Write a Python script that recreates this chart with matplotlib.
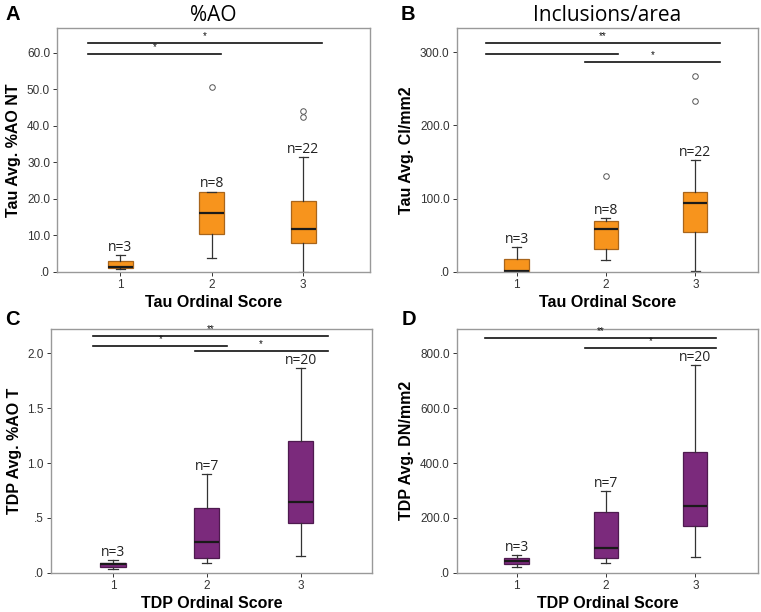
import matplotlib
matplotlib.use("Agg")
import matplotlib.pyplot as plt

plt.rcParams['font.family'] = ['Liberation Sans', 'DejaVu Sans']

# ---------------- data ----------------
groups = [1, 2, 3]

# Panel A: Tau Avg. %AO NT  (whislo, q1, med, q3, whishi, outliers)
a_stats = [
    (0.8, 1.1, 1.4, 3.1, 4.7, []),
    (3.8, 10.5, 16.0, 21.9, 22.0, [50.5]),
    (0.1, 8.0, 11.8, 19.5, 31.4, [44.1, 42.3]),
]
a_n = ["n=3", "n=8", "n=22"]
a_ticks = [0, 10, 20, 30, 40, 50, 60]
a_ticklabels = [".0", "10.0", "20.0", "30.0", "40.0", "50.0", "60.0"]
a_sig = [(0.65, 3.21, 62.6, "*"), (0.65, 2.10, 59.5, "*")]

# Panel B: Tau Avg. CI/mm2
b_stats = [
    (0.0, 0.0, 1.4, 18.2, 34.2, []),
    (16.4, 31.9, 58.8, 69.3, 73.0, [131.0]),
    (1.4, 55.2, 94.8, 109.4, 153.2, [267.2, 233.5]),
]
b_n = ["n=3", "n=8", "n=22"]
b_ticks = [0, 100, 200, 300]
b_ticklabels = [".0", "100.0", "200.0", "300.0"]
b_sig = [(0.66, 3.27, 312.4, "**"), (0.66, 2.14, 297.8, ""), (1.77, 3.27, 285.9, "*")]

# Panel C: TDP Avg. %AO T
c_stats = [
    (0.037, 0.052, 0.076, 0.091, 0.113, []),
    (0.091, 0.131, 0.28, 0.59, 0.898, []),
    (0.152, 0.454, 0.645, 1.205, 1.866, []),
]
c_n = ["n=3", "n=7", "n=20"]
c_ticks = [0, 0.5, 1.0, 1.5, 2.0]
c_ticklabels = [".0", ".5", "1.0", "1.5", "2.0"]
c_sig = [(0.79, 3.29, 2.155, "**"), (0.79, 2.22, 2.07, "*"), (1.87, 3.29, 2.024, "*")]

# Panel D: TDP Avg. DN/mm2
d_stats = [
    (20.7, 30.4, 42.6, 52.4, 65.8, []),
    (35.3, 52.4, 88.9, 221.7, 298.4, []),
    (56.0, 171.7, 243.6, 442.0, 757.6, []),
]
d_n = ["n=3", "n=7", "n=20"]
d_ticks = [0, 200, 400, 600, 800]
d_ticklabels = [".0", "200.0", "400.0", "600.0", "800.0"]
d_sig = [(0.65, 3.23, 856.3, "**"), (1.77, 3.23, 818.5, "*")]

ORANGE = "#F7941D"
ORANGE_EDGE = "#A8651C"
PURPLE = "#7B2A7C"
PURPLE_EDGE = "#4E1A4F"

fig = plt.figure(figsize=(7.61, 6.12), dpi=100)

panels = [
    dict(rect=[0.0749, 0.5556, 0.4113, 0.3986], stats=a_stats, n=a_n, ticks=a_ticks,
         tl=a_ticklabels, sig=a_sig, ylim=(0, 66.7), xlim=(0.31, 3.73), color=ORANGE,
         edge=ORANGE_EDGE, ylabel="Tau Avg. %AO NT", xlabel="Tau Ordinal Score",
         title="%AO", letter="A", lx=-0.166, ly=1.033),
    dict(rect=[0.600, 0.5556, 0.396, 0.3986], stats=b_stats, n=b_n, ticks=b_ticks,
         tl=b_ticklabels, sig=b_sig, ylim=(0, 332.9), xlim=(0.33, 3.7), color=ORANGE,
         edge=ORANGE_EDGE, ylabel="Tau Avg. CI/mm2", xlabel="Tau Ordinal Score",
         title="Inclusions/area", letter="B", lx=-0.186, ly=1.033),
    dict(rect=[0.067, 0.0642, 0.4218, 0.3982], stats=c_stats, n=c_n, ticks=c_ticks,
         tl=c_ticklabels, sig=c_sig, ylim=(0, 2.222), xlim=(0.34, 3.76), color=PURPLE,
         edge=PURPLE_EDGE, ylabel="TDP Avg. %AO T", xlabel="TDP Ordinal Score",
         title=None, letter="C", lx=-0.143, ly=1.017),
    dict(rect=[0.600, 0.0642, 0.396, 0.3982], stats=d_stats, n=d_n, ticks=d_ticks,
         tl=d_ticklabels, sig=d_sig, ylim=(0, 889), xlim=(0.33, 3.7), color=PURPLE,
         edge=PURPLE_EDGE, ylabel="TDP Avg. DN/mm2", xlabel="TDP Ordinal Score",
         title=None, letter="D", lx=-0.183, ly=1.017),
]

for p in panels:
    ax = fig.add_axes(p["rect"])
    bxp = []
    for g, s in zip(groups, p["stats"]):
        bxp.append(dict(whislo=s[0], q1=s[1], med=s[2], q3=s[3], whishi=s[4], fliers=s[5]))
    ax.bxp(bxp, positions=groups, widths=0.27, patch_artist=True, capwidths=0.1,
           boxprops=dict(facecolor=p["color"], edgecolor=p["edge"], linewidth=0.9),
           medianprops=dict(color="#1a1a1a", linewidth=1.6),
           whiskerprops=dict(color="#333333", linewidth=0.9),
           capprops=dict(color="#333333", linewidth=0.9),
           flierprops=dict(marker="o", markersize=4, markerfacecolor="white",
                           markeredgecolor="#555555", markeredgewidth=0.7))
    ax.set_xlim(*p["xlim"])
    ax.set_ylim(*p["ylim"])
    ax.set_yticks(p["ticks"])
    ax.set_yticklabels(p["tl"])
    ax.set_xticks(groups)
    ax.set_xticklabels([str(g) for g in groups])
    ax.tick_params(axis="both", labelsize=8.5, colors="#333333", length=3, width=0.7,
                   direction="out", pad=2)
    for sp in ax.spines.values():
        sp.set_color("#999999")
        sp.set_linewidth(1.0)
    ax.set_ylabel(p["ylabel"], fontsize=11.5, fontweight="bold", labelpad=4)
    ax.set_xlabel(p["xlabel"], fontsize=11.5, fontweight="bold", labelpad=3)
    # n labels
    for g, s, lab in zip(groups, p["stats"], p["n"]):
        ax.annotate(lab, (g, s[4]), xytext=(0, 3), textcoords="offset points",
                    ha="center", va="baseline", fontsize=10,
                    family=["Open Sans", "DejaVu Sans"], color="#222222")
    # significance lines
    for x0, x1, y, star in p["sig"]:
        ax.plot([x0, x1], [y, y], color="#111111", linewidth=1.2, clip_on=False)
        if star:
            ax.annotate(star, ((x0 + x1) / 2, y), xytext=(0, 1.5),
                        textcoords="offset points", ha="center", va="bottom",
                        fontsize=7, color="#111111")
    if p["title"]:
        ax.text(0.5, 1.029, p["title"], transform=ax.transAxes, ha="center",
                va="baseline", fontsize=15, family=["Open Sans", "DejaVu Sans"])
    ax.text(p["lx"], p["ly"], p["letter"], transform=ax.transAxes, ha="left",
            va="baseline", fontsize=14.5, fontweight="bold")

fig.savefig("out.png", dpi=100)
